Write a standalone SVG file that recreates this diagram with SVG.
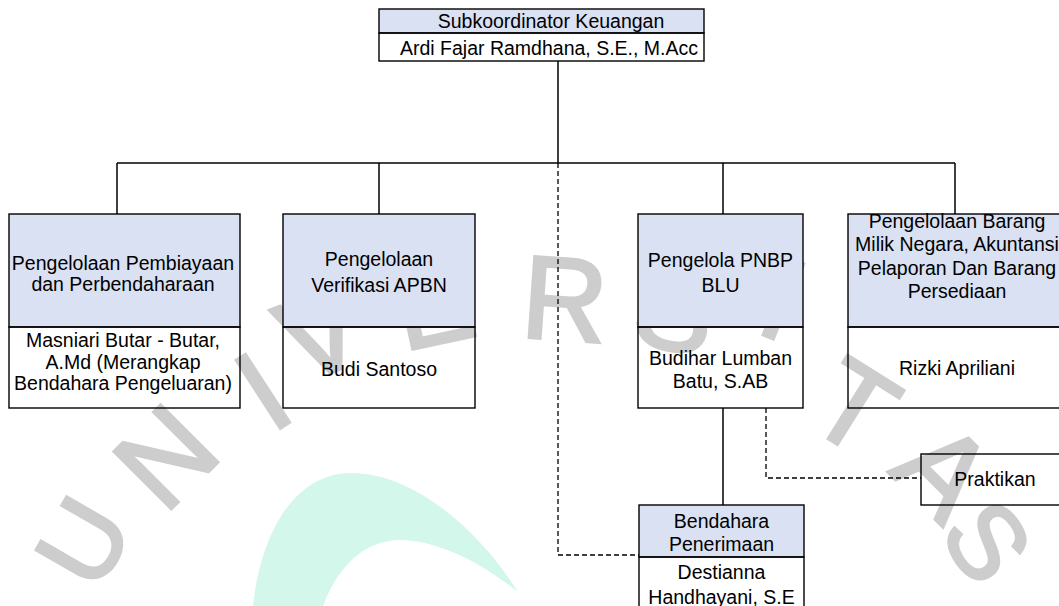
<svg xmlns="http://www.w3.org/2000/svg" width="1059" height="606" viewBox="0 0 1059 606">
  <style>
    .wm { font-family: "Liberation Sans", Arial, sans-serif; font-size: 118px; fill: #cdcdcd; stroke: #cdcdcd; stroke-width: 3; text-anchor: middle; }
    .wm-sm { font-size: 108px; }
    .wm-xs { font-size: 104px; }
    .head { fill: #dae1f3; stroke: #000; stroke-width: 1.4; }
    .body { fill: none; stroke: #000; stroke-width: 1.4; }
    .lbl { font-family: "Liberation Sans", Arial, sans-serif; font-size: 19.5px; fill: #000; text-anchor: middle; }
    .solid { fill: none; stroke: #000; stroke-width: 1.5; }
    .dash { fill: none; stroke: #000; stroke-width: 1.3; stroke-dasharray: 5 3; }
  </style>

  <rect width="1059" height="606" fill="#ffffff"/>

  <!-- background emblem: crescent and arched lettering -->
  <g id="watermark">
    <path d="M 253,606 C 262,525 298,476 347,473 C 410,470 478,528 518,592 C 480,562 440,541 400,540 C 365,540 338,566 323,606 Z" fill="#d3f7ea"/>
    <text class="wm wm-sm" transform="translate(82,541) rotate(-60)" y="39">U</text>
    <text class="wm" transform="translate(165,456) rotate(-45)" y="42">N</text>
    <text class="wm" transform="translate(262,390) rotate(-33)" y="42">I</text>
    <text class="wm" transform="translate(320,332) rotate(-22)" y="42">V</text>
    <text class="wm" transform="translate(433,302) rotate(-12)" y="42">E</text>
    <text class="wm" transform="translate(565,298) rotate(4)" y="42">R</text>
    <text class="wm" transform="translate(676,308) rotate(12)" y="42">S</text>
    <text class="wm" transform="translate(784,298) rotate(22)" y="42">I</text>
    <text class="wm" transform="translate(855,406) rotate(32)" y="42">T</text>
    <text class="wm" transform="translate(945,470) rotate(45)" y="42">A</text>
    <text class="wm wm-xs" transform="translate(988,541) rotate(55)" y="37">S</text>
  </g>

  <!-- reporting lines -->
  <g id="connectors">
    <line class="solid" x1="558" y1="61" x2="558" y2="163"/>
    <line class="solid" x1="117" y1="163" x2="955" y2="163"/>
    <line class="solid" x1="117" y1="163" x2="117" y2="214"/>
    <line class="solid" x1="379" y1="163" x2="379" y2="214"/>
    <line class="solid" x1="723" y1="163" x2="723" y2="214"/>
    <line class="solid" x1="955" y1="163" x2="955" y2="214"/>
    <line class="solid" x1="723" y1="408" x2="723" y2="505"/>
    <path class="dash" d="M 558,163 V 555 H 639"/>
    <path class="dash" d="M 766,408 V 478 H 921"/>
  </g>

  <g id="subkoordinator">
    <rect class="head" x="379" y="9" width="325" height="24"/>
    <rect class="body" x="379" y="33" width="325" height="28"/>
    <text class="lbl" x="551" y="28">Subkoordinator Keuangan</text>
    <text class="lbl" x="549" y="55">Ardi Fajar Ramdhana, S.E., M.Acc</text>
  </g>

  <g id="pembiayaan">
    <rect class="head" x="9" y="214" width="231" height="113"/>
    <rect class="body" x="9" y="327" width="231" height="81"/>
    <text class="lbl" x="123" y="270">Pengelolaan Pembiayaan</text>
    <text class="lbl" x="123" y="290.5">dan Perbendaharaan</text>
    <text class="lbl" x="123" y="347">Masniari Butar - Butar,</text>
    <text class="lbl" x="123" y="368.5">A.Md (Merangkap</text>
    <text class="lbl" x="123" y="390">Bendahara Pengeluaran)</text>
  </g>

  <g id="verifikasi">
    <rect class="head" x="283" y="214" width="192" height="113"/>
    <rect class="body" x="283" y="327" width="192" height="81"/>
    <text class="lbl" x="379" y="266">Pengelolaan</text>
    <text class="lbl" x="379" y="292">Verifikasi APBN</text>
    <text class="lbl" x="379" y="375.5">Budi Santoso</text>
  </g>

  <g id="pnbp">
    <rect class="head" x="638" y="214" width="165" height="113"/>
    <rect class="body" x="638" y="327" width="165" height="81"/>
    <text class="lbl" x="720.5" y="266.5">Pengelola PNBP</text>
    <text class="lbl" x="720.5" y="292">BLU</text>
    <text class="lbl" x="720.5" y="365">Budihar Lumban</text>
    <text class="lbl" x="720.5" y="388">Batu, S.AB</text>
  </g>

  <g id="bmn">
    <rect class="head" x="848" y="214" width="220" height="113"/>
    <rect class="body" x="848" y="327" width="220" height="81"/>
    <text class="lbl" x="957" y="228">Pengelolaan Barang</text>
    <text class="lbl" x="957" y="251">Milik Negara, Akuntansi</text>
    <text class="lbl" x="957" y="274.5">Pelaporan Dan Barang</text>
    <text class="lbl" x="957" y="298">Persediaan</text>
    <text class="lbl" x="957" y="375">Rizki Apriliani</text>
  </g>

  <g id="praktikan">
    <rect class="body" x="921" y="454" width="150" height="51"/>
    <text class="lbl" x="995" y="486">Praktikan</text>
  </g>

  <g id="bendahara-penerimaan">
    <rect class="head" x="639" y="505" width="165" height="52"/>
    <rect class="body" x="639" y="557" width="165" height="60"/>
    <text class="lbl" x="721.5" y="527.5">Bendahara</text>
    <text class="lbl" x="721.5" y="551">Penerimaan</text>
    <text class="lbl" x="721.5" y="579">Destianna</text>
    <text class="lbl" x="721.5" y="603.5">Handhayani, S.E</text>
  </g>
</svg>
